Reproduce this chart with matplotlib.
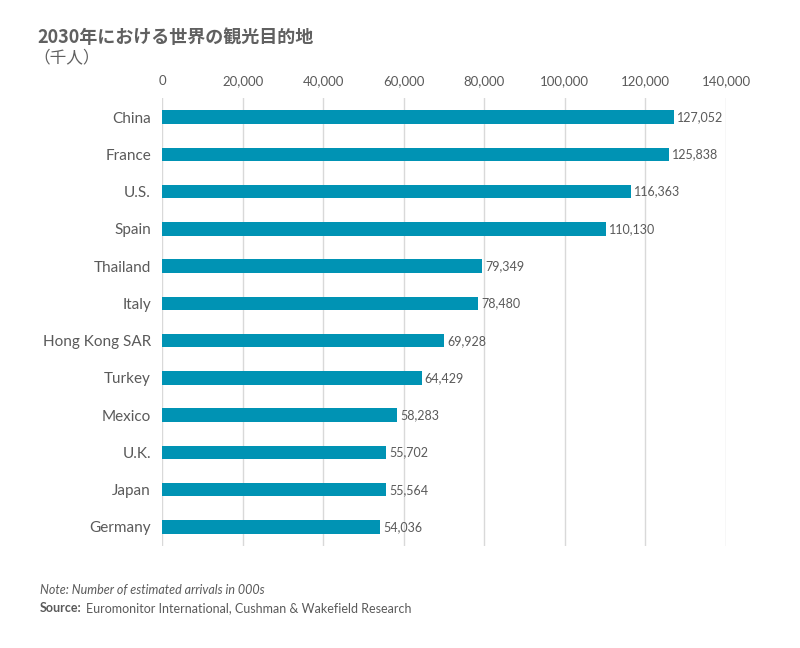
import matplotlib.pyplot as plt
from matplotlib.ticker import FuncFormatter

# データ（千人）
countries = ['China', 'France', 'U.S.', 'Spain', 'Thailand', 'Italy', 'Hong Kong SAR',
             'Turkey', 'Mexico', 'U.K.', 'Japan', 'Germany']
arrivals = [127052, 125838, 116363, 110130, 79349, 78480, 69928, 64429, 58283, 55702, 55564, 54036]
x_ticks = [0, 20000, 40000, 60000, 80000, 100000, 120000, 140000]

title = '2030年における世界の観光目的地'
subtitle = '（千人）'
note = 'Note: Number of estimated arrivals in 000s'

bar_color = '#0093b4'
text_color = '#5a5a5a'

plt.rcParams['font.family'] = ['Lato', 'Noto Sans CJK JP', 'DejaVu Sans']

fig = plt.figure(figsize=(8, 6.48), dpi=100)
ax = fig.add_axes([0.2025, 0.158, 0.705, 0.69])

y = list(range(len(countries)))
ax.barh(y, arrivals, height=0.36, color=bar_color, zorder=3)
ax.set_ylim(len(countries) - 0.5, -0.5)
ax.set_xlim(0, 140000)
ax.set_yticks(y)
ax.set_yticklabels(countries, fontsize=11, color=text_color)
ax.set_xticks(x_ticks)
ax.xaxis.set_major_formatter(FuncFormatter(lambda v, p: f'{int(v):,}'))
ax.xaxis.tick_top()
ax.tick_params(axis='x', length=0, pad=8, labelsize=9.5, labelcolor=text_color)
ax.tick_params(axis='y', length=0, pad=8)
ax.grid(axis='x', color='#d9d9d9', linewidth=1, zorder=0)
for s in ax.spines.values():
    s.set_visible(False)

# 値ラベル
for yi, v in zip(y, arrivals):
    ax.text(v + 800, yi, f'{v:,}', va='center', ha='left', fontsize=9, color=text_color)

fig.text(0.047, 0.942, title, fontsize=13, fontweight='bold', color='#606060',
         family=['Noto Sans CJK JP', 'DejaVu Sans'], va='center')
fig.text(0.042, 0.910, subtitle, fontsize=12, color='#606060',
         family=['Noto Sans CJK JP', 'DejaVu Sans'], va='center')
fig.text(0.05, 0.089, note, fontsize=9, style='italic', color=text_color, va='center')
fig.text(0.05, 0.061, 'Source:', fontsize=9, fontweight='bold', color=text_color, va='center')
fig.text(0.107, 0.061, 'Euromonitor International, Cushman & Wakefield Research',
         fontsize=9, color=text_color, va='center')

fig.savefig('out.png', dpi=100)
